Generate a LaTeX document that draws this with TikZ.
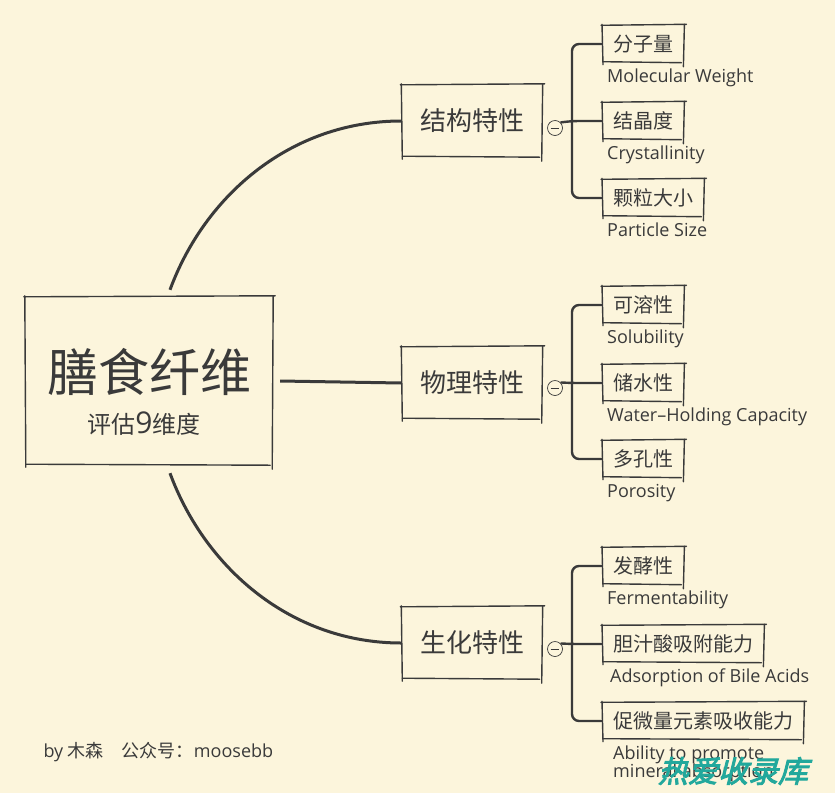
\documentclass[tikz,border=0pt]{standalone}
\usepackage{fontspec}
\setmainfont[Ligatures=CommonOff]{Open Sans}
\newfontfamily\cjk{Noto Sans CJK SC}
\newfontfamily\wmfont[FakeBold=3,FakeSlant=0.25]{Noto Sans CJK SC}
\usetikzlibrary{positioning,calc}
\definecolor{paper}{HTML}{FCF5DC}
\definecolor{ink}{HTML}{3A3A3A}
\definecolor{wmteal}{HTML}{22A89C}

\newcommand{\roughbox}[1]{%
  \draw[roughline] ([shift={(-1pt,0pt)}]#1.north west) -- ([shift={(2pt,1pt)}]#1.north east);
  \draw[roughline] ([shift={(0pt,1pt)}]#1.north east) -- ([shift={(-1pt,-4pt)}]#1.south east);
  \draw[roughline] ([shift={(-3pt,0pt)}]#1.south east) -- ([shift={(1pt,1pt)}]#1.south west);
  \draw[roughline] ([shift={(1pt,-2pt)}]#1.south west) -- ([shift={(0pt,1pt)}]#1.north west);
}

\begin{document}
\begin{tikzpicture}[x=1pt,y=-1pt,
    roughline/.style={draw=ink,line width=1.4pt,line cap=round},
    rootbox/.style={minimum width=248pt,minimum height=168pt,inner sep=0pt},
    topicbox/.style={minimum width=141pt,minimum height=72pt,inner sep=0pt,text=ink,font=\cjk\fontsize{26}{28}\selectfont},
    leafbox/.style={anchor=west,minimum height=37pt,inner xsep=11pt,inner ysep=0pt,text=ink,font=\cjk\fontsize{20}{22}\selectfont},
    entext/.style={inner sep=0pt,text=ink,align=left,font=\fontsize{18}{18}\selectfont},
    branch/.style={draw=ink,line width=3pt},
    spine/.style={draw=ink,line width=2.4pt,rounded corners=7pt},
    fold/.style={circle,draw=ink,line width=0.7pt,minimum size=15pt,inner sep=0pt}]
  \fill[paper] (0,0) rectangle (835,793);
  \useasboundingbox (0,0) rectangle (835,793);

  % centre
  \node[rootbox] (root) at (149,381) {};
  \roughbox{root}
  \node[text=ink,font=\cjk\fontsize{51}{56}\selectfont] (title) at (149,372) {膳食纤维};
  \node[text=ink,inner sep=0pt] (sub) at (144,424) {{\cjk\fontsize{24}{26}\selectfont 评估}{\fontsize{30}{30}\selectfont 9}{\cjk\fontsize{24}{26}\selectfont 维度}};

  % topics
  \node[topicbox] (t1) at (472,121) {结构特性};
  \node[topicbox] (t2) at (472,383) {物理特性};
  \node[topicbox] (t3) at (472,643) {生化特性};
  \roughbox{t1} \roughbox{t2} \roughbox{t3}
  \node[fold] (o1) at (555,128) {};
  \node[fold] (o2) at (555,388) {};
  \node[fold] (o3) at (555,649) {};
  \foreach \o in {o1,o2,o3}
    \draw[ink,line width=0.7pt] ([xshift=3.5pt]\o.west) -- ([xshift=-3.5pt]\o.east);

  \draw[branch] ([shift={(21pt,7pt)}]root.north) .. controls +(35,-95) and +(-110,0) .. (t1.west);
  \draw[branch] ([xshift=7pt]root.east) -- (t2.west);
  \draw[branch] ([shift={(21pt,-8pt)}]root.south) .. controls +(35,95) and +(-110,0) .. (t3.west);

  % leaves
  \node[leafbox] (k11) at (602,44) {分子量};
  \node[leafbox] (k12) at (602,121) {结晶度};
  \node[leafbox] (k13) at (602,198) {颗粒大小};
  \node[leafbox] (k21) at (602,305) {可溶性};
  \node[leafbox] (k22) at (602,383) {储水性};
  \node[leafbox] (k23) at (602,459) {多孔性};
  \node[leafbox] (k31) at (602,566) {发酵性};
  \node[leafbox] (k32) at (602,644) {胆汁酸吸附能力};
  \node[leafbox] (k33) at (602,721) {促微量元素吸收能力};
  \foreach \k in {k11,k12,k13,k21,k22,k23,k31,k32,k33}
    {\roughbox{\k}}

  \node[entext,below right=6pt and 5pt of k11.south west] (e11) {Molecular Weight};
  \node[entext,below right=6pt and 5pt of k12.south west] (e12) {Crystallinity};
  \node[entext,below right=6pt and 5pt of k13.south west] (e13) {Particle Size};
  \node[entext,below right=6pt and 5pt of k21.south west] (e21) {Solubility};
  \node[entext,below right=6pt and 5pt of k22.south west] (e22) {Water--Holding Capacity};
  \node[entext,below right=6pt and 5pt of k23.south west] (e23) {Porosity};
  \node[entext,below right=6pt and 5pt of k31.south west] (e31) {Fermentability};
  \node[entext,below right=6pt and 8pt of k32.south west] (e32) {Adsorption of Bile Acids};
  \node[entext,below right=6pt and 11pt of k33.south west] (e33) {Ability to promote\\mineral absorption};

  % spines
  \draw[spine] (k11.west) -- ++(-30,0) |- (k13.west);
  \draw[spine] (k12.west) -- ++(-30,0) -- (o1.45);
  \draw[spine] (k21.west) -- ++(-30,0) |- (k23.west);
  \draw[spine] (k22.west) -- ++(-30,0) -- (o2.45);
  \draw[spine] (k31.west) -- ++(-30,0) |- (k33.west);
  \draw[spine] (k32.west) -- ++(-30,0) -- (o3.45);

  \node[anchor=west,text=ink,font=\fontsize{18}{18}\selectfont] (credit) at (40,752) {by {\cjk 木森}\quad{\cjk 公众号：}moosebb};
  \node[text=wmteal,font=\wmfont\fontsize{30}{30}\selectfont] (mark) at (733,771) {热爱收录库};
\end{tikzpicture}
\end{document}
